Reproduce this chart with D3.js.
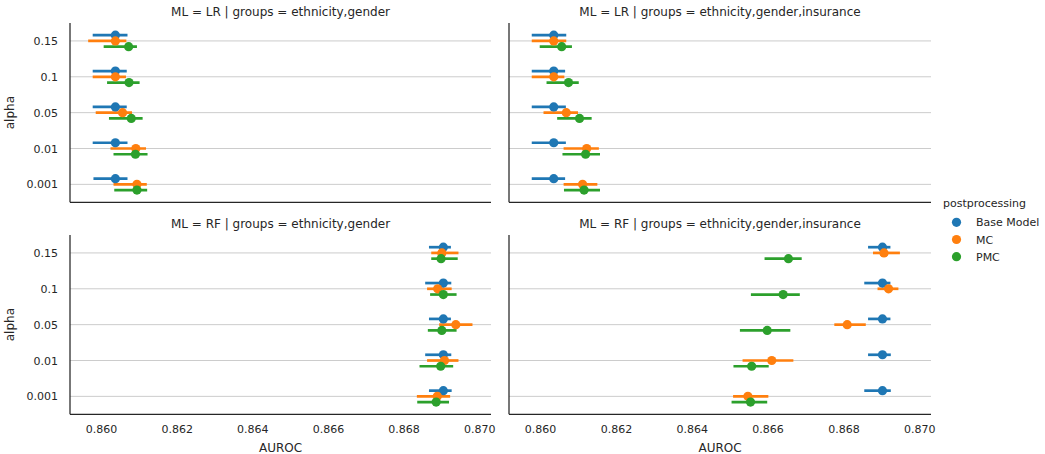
<!DOCTYPE html>
<html><head><meta charset="utf-8">
<script src="https://cdn.jsdelivr.net/npm/d3@7"></script>
<style>body{margin:0;background:#fff}svg{display:block;font-family:"DejaVu Sans",sans-serif}</style>
</head><body><svg id="c" width="1045" height="454"></svg>
<script>
const alphas = ["0.15","0.1","0.05","0.01","0.001"];
const series = ["Base Model","MC","PMC"];
const colors = ["#1f77b4","#ff7f0e","#2ca02c"];
const xTicks = [0.860,0.862,0.864,0.866,0.868,0.870];
const panelTitles = ["ML = LR | groups = ethnicity,gender","ML = LR | groups = ethnicity,gender,insurance","ML = RF | groups = ethnicity,gender","ML = RF | groups = ethnicity,gender,insurance"];

// per panel, per series: [mean, lo, hi] for alphas in order
const lrEG_base = [[0.86038,0.85978,0.86070],[0.86038,0.85978,0.86068],[0.86038,0.85978,0.86068],[0.86038,0.85978,0.86070],[0.86038,0.85980,0.86070]];
const lrEG_mc   = [[0.86038,0.85966,0.86067],[0.86038,0.85978,0.86066],[0.86057,0.85986,0.86082],[0.86092,0.86025,0.86119],[0.86095,0.86033,0.86121]];
const lrEG_pmc  = [[0.86073,0.86007,0.86095],[0.86074,0.86016,0.86102],[0.86080,0.86021,0.86110],[0.86091,0.86033,0.86123],[0.86095,0.86035,0.86122]];

const lrEGI_base = [[0.86036,0.85978,0.86069],[0.86036,0.85978,0.86066],[0.86036,0.85978,0.86068],[0.86036,0.85978,0.86068],[0.86036,0.85978,0.86066]];
const lrEGI_mc   = [[0.86036,0.85978,0.86069],[0.86036,0.85978,0.86064],[0.86069,0.86009,0.86100],[0.86123,0.86062,0.86155],[0.86112,0.86062,0.86151]];
const lrEGI_pmc  = [[0.86057,0.85999,0.86084],[0.86075,0.86017,0.86102],[0.86104,0.86045,0.86136],[0.86120,0.86059,0.86158],[0.86116,0.86063,0.86158]];

const rfEG_base = [[0.86905,0.86867,0.86925],[0.86905,0.86857,0.86926],[0.86905,0.86867,0.86925],[0.86905,0.86857,0.86926],[0.86905,0.86867,0.86927]];
const rfEG_mc   = [[0.86901,0.86873,0.86945],[0.86890,0.86862,0.86927],[0.86938,0.86894,0.86982],[0.86908,0.86862,0.86945],[0.86889,0.86835,0.86923]];
const rfEG_pmc  = [[0.86899,0.86873,0.86943],[0.86905,0.86870,0.86940],[0.86901,0.86864,0.86940],[0.86898,0.86842,0.86931],[0.86886,0.86836,0.86920]];

const rfEGI_base = [[0.86903,0.86865,0.86924],[0.86903,0.86855,0.86924],[0.86903,0.86865,0.86924],[0.86903,0.86865,0.86925],[0.86903,0.86855,0.86925]];
const rfEGI_mc   = [[0.86907,0.86878,0.86949],[0.86919,0.86890,0.86945],[0.86810,0.86776,0.86859],[0.86611,0.86534,0.86668],[0.86548,0.86509,0.86602]];
const rfEGI_pmc  = [[0.86655,0.86592,0.86690],[0.86641,0.86556,0.86685],[0.86599,0.86527,0.86660],[0.86558,0.86510,0.86603],[0.86555,0.86505,0.86599]];

const panelData = [
  [lrEG_base, lrEG_mc, lrEG_pmc],
  [lrEGI_base, lrEGI_mc, lrEGI_pmc],
  [rfEG_base, rfEG_mc, rfEG_pmc],
  [rfEGI_base, rfEGI_mc, rfEGI_pmc]
];

const svg = d3.select("#c");
const textCol = "#262626";
const xDomain = [0.85918, 0.87031];
const panels = [
  {x0:70, x1:491, y0:23, y1:202.3},
  {x0:509, x1:931, y0:23, y1:202.3},
  {x0:70, x1:491, y0:235, y1:414.3},
  {x0:509, x1:931, y0:235, y1:414.3}
];

panels.forEach((p, pi) => {
  const g = svg.append("g");
  const x = d3.scaleLinear().domain(xDomain).range([p.x0, p.x1]);
  const y = d3.scalePoint().domain(alphas).range([p.y0, p.y1]).padding(0.5);
  const off = y.step() * 0.16;
  // grid
  g.selectAll(".grid").data(alphas).join("line")
    .attr("x1", p.x0).attr("x2", p.x1)
    .attr("y1", d => y(d)).attr("y2", d => y(d))
    .attr("stroke", "#cccccc").attr("stroke-width", 1);
  // title
  g.append("text").attr("x", (p.x0 + p.x1) / 2).attr("y", p.y0 - 7)
    .attr("text-anchor", "middle").attr("font-size", 12).attr("fill", textCol)
    .text(panelTitles[pi]);
  // y labels on left panels
  if (pi % 2 === 0) {
    const ya = d3.axisLeft(y).tickSize(0).tickPadding(12);
    const ag = g.append("g").attr("transform", `translate(${p.x0},0)`).call(ya);
    ag.select(".domain").remove();
    ag.selectAll("text").attr("font-size", 11).attr("fill", textCol).attr("font-family", "DejaVu Sans");
    g.append("text").attr("transform", `translate(14,${(p.y0 + p.y1) / 2}) rotate(-90)`)
      .attr("text-anchor", "middle").attr("font-size", 12).attr("fill", textCol).text("alpha");
  }
  // x axis on bottom panels
  if (pi >= 2) {
    const xa = d3.axisBottom(x).tickValues(xTicks).tickFormat(d3.format(".3f")).tickSize(0).tickPadding(11);
    const ag = g.append("g").attr("transform", `translate(0,${p.y1})`).call(xa);
    ag.select(".domain").remove();
    ag.selectAll("text").attr("font-size", 11).attr("fill", textCol).attr("font-family", "DejaVu Sans");
    g.append("text").attr("x", (p.x0 + p.x1) / 2).attr("y", 452)
      .attr("text-anchor", "middle").attr("font-size", 12).attr("fill", textCol).text("AUROC");
  }
  // spines
  g.append("line").attr("x1", p.x0).attr("x2", p.x0).attr("y1", p.y0).attr("y2", p.y1)
    .attr("stroke", textCol).attr("stroke-width", 1.25);
  g.append("line").attr("x1", p.x0).attr("x2", p.x1).attr("y1", p.y1).attr("y2", p.y1)
    .attr("stroke", textCol).attr("stroke-width", 1.25);
  // error bars
  panelData[pi].forEach((sd, si) => {
    g.selectAll(null).data(sd).join("line")
      .attr("x1", d => x(d[1])).attr("x2", d => x(d[2]))
      .attr("y1", (d, i) => y(alphas[i]) + (si - 1) * off)
      .attr("y2", (d, i) => y(alphas[i]) + (si - 1) * off)
      .attr("stroke", colors[si]).attr("stroke-width", 2.7);
  });
  panelData[pi].forEach((sd, si) => {
    g.selectAll(null).data(sd).join("circle")
      .attr("cx", d => x(d[0]))
      .attr("cy", (d, i) => y(alphas[i]) + (si - 1) * off)
      .attr("r", 4.6).attr("fill", colors[si]);
  });
});

// legend
const lg = svg.append("g");
lg.append("text").attr("x", 943).attr("y", 207).attr("font-size", 11).attr("fill", textCol).text("postprocessing");
series.forEach((s, i) => {
  const yy = 222.3 + i * 17.2;
  lg.append("circle").attr("cx", 956.5).attr("cy", yy).attr("r", 4.6).attr("fill", colors[i]);
  lg.append("text").attr("x", 976).attr("y", yy + 4).attr("font-size", 11).attr("fill", textCol).text(s);
});
</script></body></html>
